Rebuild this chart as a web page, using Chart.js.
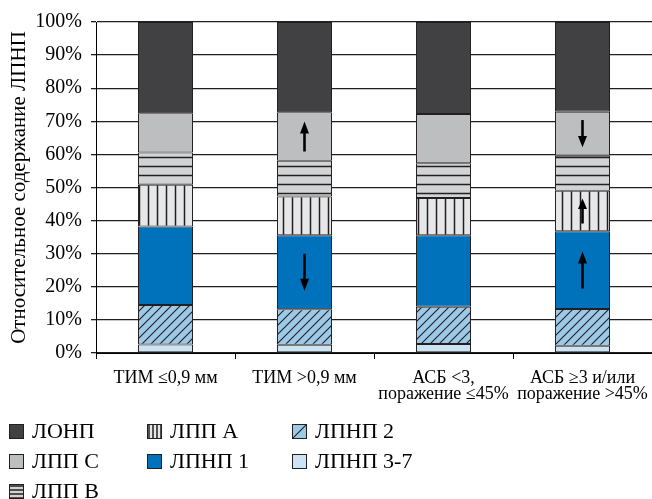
<!DOCTYPE html>
<html>
<head>
<meta charset="utf-8">
<script src="https://cdn.jsdelivr.net/npm/chart.js@4/dist/chart.umd.min.js"></script>
<style>
  html, body { margin: 0; padding: 0; background: #fff; }
  #wrap { position: relative; width: 652px; height: 499px; overflow: hidden; }
  #chartBox { position: absolute; left: 0; top: 0; width: 652px; height: 410px; }
  #legend { position: absolute; left: 0; top: 416px; width: 652px; height: 83px;
            font-family: "Liberation Serif", "Times New Roman", serif; font-size: 22px; color: #000; }
  .item { position: absolute; display: flex; align-items: center; height: 30px; white-space: nowrap; }
  .item canvas { width: 15px; height: 15px; margin-right: 8px; }
</style>
</head>
<body>
<div id="wrap">
  <div id="chartBox"><canvas id="c"></canvas></div>
  <div id="legend"></div>
</div>
<script>
// ---- data ----
const categories = [
  ['ТИМ ≤0,9 мм'],
  ['ТИМ >0,9 мм'],
  ['АСБ <3,', 'поражение ≤45%'],
  ['АСБ ≥3 и/или', 'поражение >45%']
];
const seriesNames = ['ЛПНП 3-7', 'ЛПНП 2', 'ЛПНП 1', 'ЛПП А', 'ЛПП В', 'ЛПП С', 'ЛОНП'];
const lpnp37 = [2.6, 2.5, 2.7, 2.2];
const lpnp2  = [11.9, 10.7, 11.3, 11.1];
const lpnp1  = [23.7, 22.4, 21.6, 23.5];
const lppA   = [12.6, 11.7, 11.2, 12.2];
const lppB   = [9.8, 10.8, 10.5, 10.6];
const lppC   = [11.8, 14.6, 14.9, 13.3];
const lonp   = [27.6, 27.3, 27.8, 27.1];
const yTicks = [0, 10, 20, 30, 40, 50, 60, 70, 80, 90, 100];
// arrows: category index, series name, direction
const arrowCats   = [1, 1, 3, 3, 3];
const arrowSeries = ['ЛПП С', 'ЛПНП 1', 'ЛПП С', 'ЛПП А', 'ЛПНП 1'];
const arrowDirs   = ['up', 'down', 'down', 'up', 'up'];

const EDGE = '#231f20';

function makePattern(kind, bg, s) {
  const t = document.createElement('canvas');
  t.width = s; t.height = s;
  const g = t.getContext('2d');
  g.fillStyle = bg; g.fillRect(0, 0, s, s);
  g.strokeStyle = EDGE;
  const m = s / 2;
  if (kind === 'v') {
    g.lineWidth = 1.5;
    g.beginPath(); g.moveTo(m, 0); g.lineTo(m, s); g.stroke();
  } else if (kind === 'h') {
    g.lineWidth = 1.5;
    g.beginPath(); g.moveTo(0, m); g.lineTo(s, m); g.stroke();
  } else if (kind === 'd') {
    g.lineWidth = 1.1;
    g.beginPath();
    g.moveTo(-1, s + 1); g.lineTo(s + 1, -1);
    g.moveTo(-1, 1); g.lineTo(1, -1);
    g.moveTo(s - 1, s + 1); g.lineTo(s + 1, s - 1);
    g.stroke();
  }
  return g.createPattern(t, 'repeat');
}

const fills = {
  'ЛПНП 3-7': '#cce3f4',
  'ЛПНП 2': makePattern('d', '#9dc9e8', 9),
  'ЛПНП 1': '#0072bc',
  'ЛПП А': makePattern('v', '#e6e7e8', 9),
  'ЛПП В': makePattern('h', '#d1d3d4', 9),
  'ЛПП С': '#bcbec0',
  'ЛОНП': '#414042'
};
const swatchKinds = {
  'ЛПНП 3-7': [null, '#cce3f4'], 'ЛПНП 2': ['d', '#9dc9e8'], 'ЛПНП 1': [null, '#0072bc'],
  'ЛПП А': ['v', '#e6e7e8'], 'ЛПП В': ['h', '#d1d3d4'], 'ЛПП С': [null, '#bcbec0'], 'ЛОНП': [null, '#414042']
};
const values = [lpnp37, lpnp2, lpnp1, lppA, lppB, lppC, lonp];

const datasets = seriesNames.map((n, i) => ({
  label: n,
  data: values[i],
  backgroundColor: fills[n],
  borderColor: EDGE,
  borderWidth: 1,
  borderSkipped: false,
  categoryPercentage: 1.0,
  barPercentage: 0.396
}));

const arrowPlugin = {
  id: 'arrows',
  afterDatasetsDraw(chart) {
    const ctx = chart.ctx;
    ctx.save();
    ctx.strokeStyle = '#000'; ctx.fillStyle = '#000'; ctx.lineWidth = 2.6;
    for (let k = 0; k < arrowCats.length; k++) {
      const di = seriesNames.indexOf(arrowSeries[k]);
      const el = chart.getDatasetMeta(di).data[arrowCats[k]];
      const x = el.x;
      const top = Math.min(el.y, el.base), bot = Math.max(el.y, el.base);
      const h = bot - top;
      const len = Math.min(37, h * 0.62);
      const cy = (top + bot) / 2;
      const y1 = cy - len / 2, y2 = cy + len / 2;
      const head = Math.min(12, len * 0.42);
      ctx.beginPath();
      if (arrowDirs[k] === 'up') {
        ctx.moveTo(x, y2); ctx.lineTo(x, y1 + head - 1); ctx.stroke();
        ctx.beginPath(); ctx.moveTo(x, y1); ctx.lineTo(x - 4.5, y1 + head); ctx.lineTo(x + 4.5, y1 + head); ctx.closePath(); ctx.fill();
      } else {
        ctx.moveTo(x, y1); ctx.lineTo(x, y2 - head + 1); ctx.stroke();
        ctx.beginPath(); ctx.moveTo(x, y2); ctx.lineTo(x - 4.5, y2 - head); ctx.lineTo(x + 4.5, y2 - head); ctx.closePath(); ctx.fill();
      }
    }
    ctx.restore();
  }
};

const serif = '"Liberation Serif", "Times New Roman", serif';

new Chart(document.getElementById('c'), {
  type: 'bar',
  data: { labels: categories, datasets },
  plugins: [arrowPlugin],
  options: {
    responsive: true,
    maintainAspectRatio: false,
    animation: false,
    layout: { padding: { top: 22, right: 0, left: 0, bottom: 0 } },
    plugins: { legend: { display: false }, tooltip: { enabled: false } },
    scales: {
      x: {
        stacked: true,
        offset: true,
        grid: { drawOnChartArea: false, offset: true, tickLength: 6, color: '#000', lineWidth: 1 },
        border: { color: '#000', width: 1 },
        ticks: { font: { family: serif, size: 18, lineHeight: 0.85 }, color: '#000', padding: 12, maxRotation: 0, autoSkip: false },
        afterFit(s) { s.height = 57; s.paddingLeft = 0; s.paddingRight = 0; }
      },
      y: {
        stacked: true,
        min: 0, max: 100,
        afterBuildTicks(s) { s.ticks = yTicks.map(v => ({ value: v })); },
        grid: { color: '#231f20', lineWidth: 1.3, tickLength: 5 },
        border: { color: '#000', width: 1 },
        ticks: { font: { family: serif, size: 20 }, color: '#000', padding: 9, callback: v => v + '%' },
        title: { display: true, text: 'Относительное содержание ЛПНП', font: { family: serif, size: 21 }, color: '#000', padding: { top: 7, bottom: 0 } },
        afterFit(s) { s.width = 96; }
      }
    }
  }
});

// ---- legend ----
const legendLayout = [
  ['ЛОНП', 9, 0], ['ЛПП С', 9, 1], ['ЛПП В', 9, 2],
  ['ЛПП А', 147, 0], ['ЛПНП 1', 147, 1],
  ['ЛПНП 2', 292, 0], ['ЛПНП 3-7', 292, 1]
];
const leg = document.getElementById('legend');
legendLayout.forEach(([name, x, row]) => {
  const d = document.createElement('div');
  d.className = 'item';
  d.style.left = x + 'px';
  d.style.top = (row * 30) + 'px';
  const cv = document.createElement('canvas');
  cv.width = 15; cv.height = 15;
  const g = cv.getContext('2d');
  const [kind, bg] = swatchKinds[name];
  g.fillStyle = kind ? makePattern(kind, bg, kind === 'd' ? 15 : 4) : bg;
  g.fillRect(0, 0, 15, 15);
  g.strokeStyle = EDGE; g.lineWidth = 1; g.strokeRect(0.5, 0.5, 14, 14);
  d.appendChild(cv);
  const sp = document.createElement('span');
  sp.textContent = name;
  d.appendChild(sp);
  leg.appendChild(d);
});
</script>
</body>
</html>
